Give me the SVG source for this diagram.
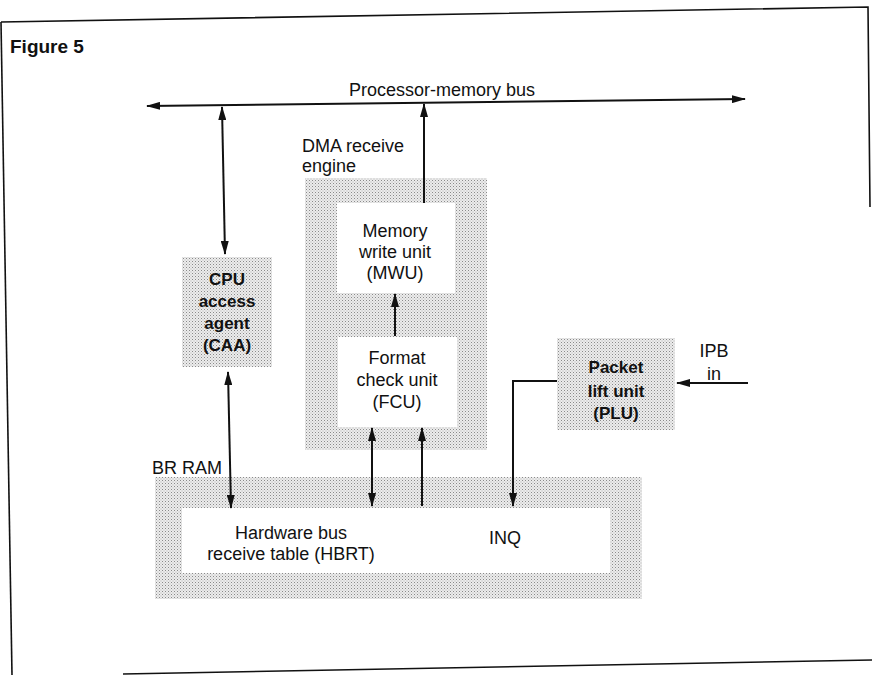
<svg xmlns="http://www.w3.org/2000/svg" width="872" height="675" viewBox="0 0 872 675">
<defs>
<pattern id="ht" width="3" height="3" patternUnits="userSpaceOnUse">
<rect width="3" height="3" fill="#ececec"/>
<rect x="0" y="0" width="1" height="1" fill="#8a8a8a"/>
<rect x="1.5" y="1.5" width="1" height="1" fill="#b0b0b0"/>
</pattern>
<marker id="ah" markerUnits="userSpaceOnUse" markerWidth="14" markerHeight="8" refX="13" refY="4" orient="auto-start-reverse">
<path d="M0,0 L14,4 L0,8 z" fill="#111"/>
</marker>
</defs>
<style>
.t{font-family:"Liberation Sans",Arial,sans-serif;font-size:18px;fill:#111}
.b{font-family:"Liberation Sans",Arial,sans-serif;font-size:17px;font-weight:bold;fill:#111}
.f{font-family:"Liberation Sans",Arial,sans-serif;font-size:19px;font-weight:bold;fill:#111}
.c{text-anchor:middle}
.sh{fill:url(#ht)}
.wh{fill:#fff}
.ln{stroke:#111;stroke-width:2;fill:none}
.fr{stroke:#111;stroke-width:1.6;fill:none}
</style>
<rect width="872" height="675" fill="#fff"/>
<g id="frame">
<polyline class="fr" points="1,22 868,7 870,207"/>
<line class="fr" x1="1" y1="22" x2="12" y2="675"/>
<line class="fr" x1="123" y1="674" x2="872" y2="660"/>
<text class="f" x="10" y="53">Figure 5</text>
</g>
<g id="bus">
<text class="t c" x="442" y="96">Processor-memory bus</text>
</g>
<g id="dma">
<rect class="sh" x="305" y="178" width="182" height="272"/>
<text class="t" x="302" y="152">DMA receive</text>
<text class="t" x="302" y="172">engine</text>
</g>
<g id="mwu">
<rect class="wh" x="337" y="203" width="118" height="90"/>
<text class="t c" x="395" y="237">Memory</text>
<text class="t c" x="395" y="258">write unit</text>
<text class="t c" x="395" y="279">(MWU)</text>
</g>
<g id="fcu">
<rect class="wh" x="338" y="337" width="119" height="90"/>
<text class="t c" x="397" y="364">Format</text>
<text class="t c" x="397" y="386">check unit</text>
<text class="t c" x="397" y="408">(FCU)</text>
</g>
<g id="caa">
<rect class="sh" x="182" y="257" width="90" height="110"/>
<text class="b c" x="227" y="285">CPU</text>
<text class="b c" x="227" y="307">access</text>
<text class="b c" x="227" y="329">agent</text>
<text class="b c" x="227" y="351">(CAA)</text>
</g>
<g id="plu">
<rect class="sh" x="557" y="338" width="118" height="92"/>
<text class="b c" x="616" y="373">Packet</text>
<text class="b c" x="616" y="397">lift unit</text>
<text class="b c" x="616" y="419">(PLU)</text>
</g>
<g id="ipb">
<text class="t c" x="714" y="357">IPB</text>
<text class="t c" x="714" y="380">in</text>
</g>
<g id="brram">
<rect class="sh" x="155" y="477" width="487" height="122"/>
<rect class="wh" x="182" y="508" width="428" height="65"/>
<text class="t" x="152" y="474">BR RAM</text>
<text class="t c" x="291" y="539">Hardware bus</text>
<text class="t c" x="291" y="560">receive table (HBRT)</text>
<text class="t c" x="505" y="544">INQ</text>
</g>
<g id="connectors">
<line class="ln" x1="147" y1="106" x2="745" y2="99" marker-start="url(#ah)" marker-end="url(#ah)"/>
<line class="ln" x1="222" y1="107" x2="225" y2="254" marker-start="url(#ah)" marker-end="url(#ah)"/>
<line class="ln" x1="228" y1="372" x2="231" y2="508" marker-start="url(#ah)" marker-end="url(#ah)"/>
<line class="ln" x1="395" y1="336" x2="395" y2="294" marker-end="url(#ah)"/>
<line class="ln" x1="424" y1="203" x2="424" y2="104" marker-end="url(#ah)"/>
<line class="ln" x1="372" y1="428" x2="372" y2="506" marker-start="url(#ah)" marker-end="url(#ah)"/>
<line class="ln" x1="422" y1="506" x2="422" y2="428" marker-end="url(#ah)"/>
<polyline class="ln" points="557,381 513,381 513,506" marker-end="url(#ah)"/>
<line class="ln" x1="748" y1="383" x2="677" y2="383" marker-end="url(#ah)"/>
</g>
</svg>
